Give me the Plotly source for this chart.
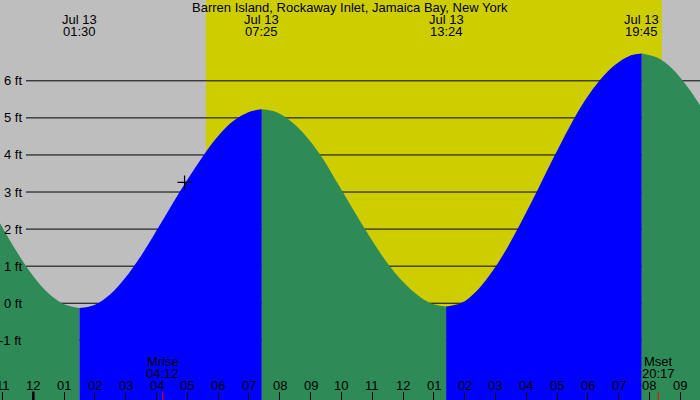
import plotly.graph_objects as go

# ---------------- data ----------------
title = "Barren Island, Rockaway Inlet, Jamaica Bay, New York"
date_label = "Jul 13"

# tide extremes (local time)
extreme_times = ["01:30", "07:25", "13:24", "19:45"]

# tide height readings (hours since midnight Jul 13, ft), split into falling / rising segments
seg1_h = [-1.081, -0.5, 0.0, 0.5, 1.0, 1.5]
seg1_v = [2.16, 1.34, 0.73, 0.26, -0.03, -0.13]
seg2_h = [1.5, 2.0, 2.5, 3.0, 3.5, 4.0, 4.5, 5.0, 5.5, 6.0, 6.5, 7.0, 7.417]
seg2_v = [-0.13, -0.04, 0.24, 0.70, 1.28, 1.96, 2.66, 3.33, 3.96, 4.51, 4.92, 5.16, 5.23]
seg3_h = [7.417, 7.9, 8.4, 8.9, 9.4, 9.9, 10.4, 10.9, 11.4, 11.9, 12.4, 12.9, 13.4]
seg3_v = [5.23, 5.15, 4.88, 4.46, 3.90, 3.20, 2.50, 1.82, 1.19, 0.67, 0.27, 0.00, -0.09]
seg4_h = [13.4, 13.9, 14.4, 14.9, 15.4, 15.9, 16.4, 16.9, 17.4, 17.9, 18.4, 18.9, 19.4, 19.75]
seg4_v = [-0.09, 0.01, 0.34, 0.86, 1.52, 2.29, 3.11, 3.95, 4.75, 5.46, 6.03, 6.44, 6.69, 6.74]
seg5_h = [19.75, 20.25, 20.75, 21.25, 21.64]
seg5_v = [6.74, 6.63, 6.32, 5.82, 5.34]
segments = [(seg1_h, seg1_v, "fall"), (seg2_h, seg2_v, "rise"), (seg3_h, seg3_v, "fall"),
            (seg4_h, seg4_v, "rise"), (seg5_h, seg5_v, "fall")]

sun_times = ["05:36", "20:24"]          # sunrise, sunset
moon_events = [("Mrise", "04:12"), ("Mset", "20:17")]
now_point = (4.91, 3.26)                # current-time marker (hour, ft)

hour_ticks = list(range(-1, 22))
ft_levels = [-1, 0, 1, 2, 3, 4, 5, 6]

x_range = [-1.081, 21.64]
y_range = [-2.61, 8.18]

# ---------------- styles ----------------
GRAY = "#BEBEBE"
YELLOW = "#CDCD00"
GREEN = "#2E8B57"
BLUE = "#0000FF"
FONT = "Liberation Sans"
FSIZE = 13


def to_hours(s):
    h, m = s.split(":")
    return int(h) + int(m) / 60.0


def hour_label(h):
    v = h % 12
    return "12" if v == 0 else f"{v:02d}"


fig = go.Figure()

for hx, vy, kind in segments:
    fig.add_trace(go.Scatter(x=[hx[0], hx[-1]], y=[y_range[0], y_range[0]], mode="lines",
                             line=dict(width=0), hoverinfo="skip", showlegend=False))
    fig.add_trace(go.Scatter(x=hx, y=vy, mode="lines", line=dict(width=0, shape="spline", smoothing=1.0),
                             fill="tonexty", fillcolor=BLUE if kind == "rise" else GREEN,
                             hoverinfo="skip", showlegend=False))

fig.add_trace(go.Scatter(x=[now_point[0]], y=[now_point[1]], mode="markers",
                         marker=dict(symbol="cross-thin", size=10, line=dict(color="black", width=1.2)),
                         showlegend=False, hoverinfo="skip"))

shapes = []
sr, ss = (to_hours(t) for t in sun_times)
shapes.append(dict(type="rect", xref="x", yref="paper", x0=sr, x1=ss, y0=0, y1=1,
                   fillcolor=YELLOW, line=dict(width=0), layer="below"))
for lv in ft_levels:
    shapes.append(dict(type="line", xref="paper", yref="y", x0=26 / 700, x1=1, y0=lv, y1=lv,
                       line=dict(color="black", width=1), layer="below"))
# midnight tick (thicker)
shapes.append(dict(type="line", xref="x", yref="paper", x0=0, x1=0, y0=0, y1=0.021,
                   line=dict(color="black", width=2.5)))
for name, t in moon_events:
    th = to_hours(t)
    shapes.append(dict(type="line", xref="x", yref="paper", x0=th, x1=th, y0=0, y1=0.021,
                       line=dict(color="red", width=1)))

ann = []
tf = dict(family=FONT, size=FSIZE, color="black")
ann.append(dict(text=title, xref="paper", yref="paper", x=0.5, y=0.981, showarrow=False,
                xanchor="center", yanchor="middle", font=tf))
for t in extreme_times:
    th = to_hours(t)
    ann.append(dict(text=date_label, xref="x", yref="paper", x=th, y=0.951, showarrow=False,
                    xanchor="center", yanchor="middle", font=tf))
    ann.append(dict(text=t, xref="x", yref="paper", x=th, y=0.921, showarrow=False,
                    xanchor="center", yanchor="middle", font=tf))
for name, t in moon_events:
    th = to_hours(t)
    ann.append(dict(text=name, xref="x", yref="paper", x=th, y=0.0958, showarrow=False,
                    xanchor="center", yanchor="middle", font=tf))
    ann.append(dict(text=t, xref="x", yref="paper", x=th, y=0.0668, showarrow=False,
                    xanchor="center", yanchor="middle", font=tf))
for h in hour_ticks:
    ann.append(dict(text=hour_label(h), xref="x", yref="paper", x=h, y=0.036, showarrow=False,
                    xanchor="center", yanchor="middle", font=tf))
for lv in ft_levels:
    ann.append(dict(text=f"{lv} ft", xref="paper", yref="y", x=24 / 700, y=lv, showarrow=False,
                    xanchor="right", yanchor="middle", font=tf))

fig.update_layout(
    width=700, height=400, margin=dict(l=0, r=0, t=0, b=0),
    paper_bgcolor=GRAY, plot_bgcolor=GRAY,
    shapes=shapes, annotations=ann, showlegend=False,
    xaxis=dict(range=x_range, showgrid=False, zeroline=False, showticklabels=False,
               tickvals=hour_ticks, ticks="inside", ticklen=8, tickwidth=1, tickcolor="black",
               fixedrange=True),
    yaxis=dict(range=y_range, showgrid=False, zeroline=False, showticklabels=False,
               fixedrange=True),
)

fig.write_html("out.html")
